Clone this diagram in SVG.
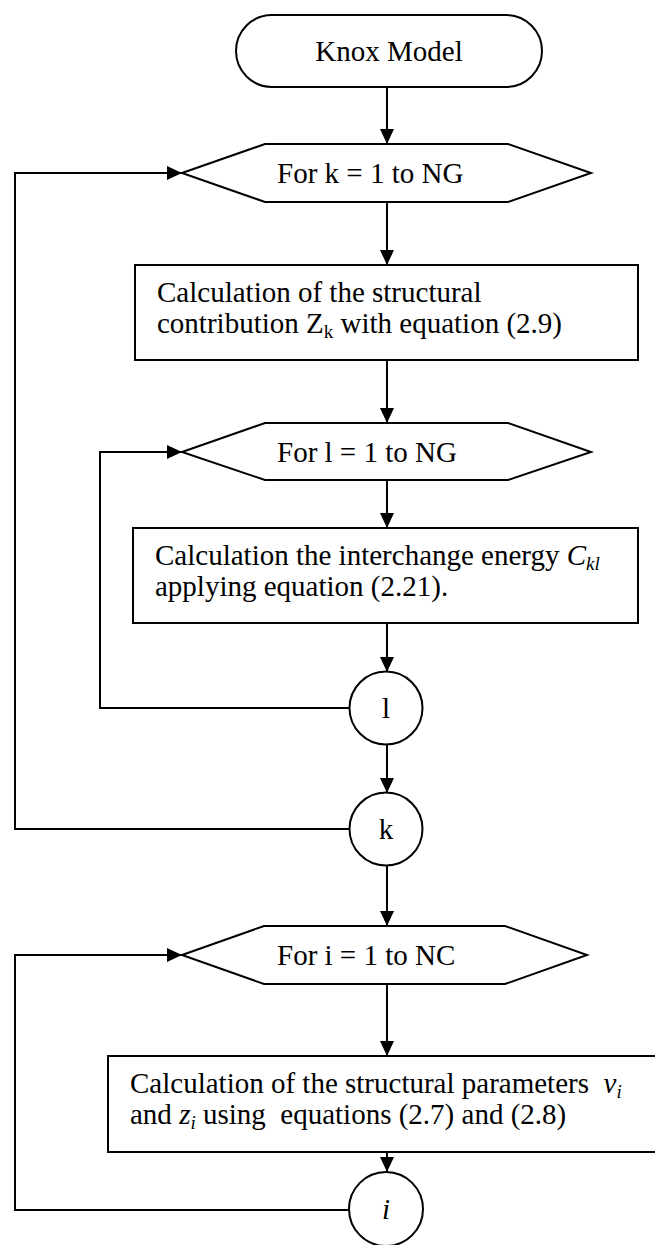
<svg xmlns="http://www.w3.org/2000/svg" width="655" height="1245" viewBox="0 0 655 1245">
<defs>
<marker id="arr" markerUnits="userSpaceOnUse" markerWidth="15" markerHeight="14" refX="15" refY="7" orient="auto">
<path d="M0,0 L15,7 L0,14 z" fill="#000"/>
</marker>
<style>
.s{fill:#fff;stroke:#000;stroke-width:2}
.c{fill:none;stroke:#000;stroke-width:2}
.t{font-family:"Liberation Serif","Times New Roman",serif;font-size:29px;fill:#000}
.m{text-anchor:middle}
.sub{font-size:19px}
.i{font-style:italic}
</style>
</defs>
<rect width="655" height="1245" fill="#fff"/>
<g id="connectors">
<line class="c" x1="387" y1="87" x2="387" y2="144" marker-end="url(#arr)"/>
<line class="c" x1="387" y1="202" x2="387" y2="265" marker-end="url(#arr)"/>
<line class="c" x1="387" y1="360" x2="387" y2="423" marker-end="url(#arr)"/>
<line class="c" x1="387" y1="480" x2="387" y2="528" marker-end="url(#arr)"/>
<line class="c" x1="387" y1="623" x2="387" y2="672" marker-end="url(#arr)"/>
<line class="c" x1="387" y1="745" x2="387" y2="793" marker-end="url(#arr)"/>
<line class="c" x1="387" y1="866" x2="387" y2="926" marker-end="url(#arr)"/>
<line class="c" x1="387" y1="984" x2="387" y2="1056" marker-end="url(#arr)"/>
<line class="c" x1="387" y1="1152" x2="387" y2="1172" marker-end="url(#arr)"/>
<polyline class="c" points="350,708 100,708 100,452 182,452" marker-end="url(#arr)"/>
<polyline class="c" points="350,829 15,829 15,173 182,173" marker-end="url(#arr)"/>
<polyline class="c" points="350,1210 15,1210 15,955 182,955" marker-end="url(#arr)"/>
</g>
<g id="start">
<rect class="s" x="236" y="15" width="306" height="72" rx="36" ry="36"/>
<text class="t m" x="389" y="61">Knox Model</text>
</g>
<g id="loop-k">
<polygon class="s" points="182,173 265,144 508,144 591,173 508,202 265,202"/>
<text class="t" x="277" y="183">For k = 1 to NG</text>
</g>
<g id="box-zk">
<rect class="s" x="135" y="265" width="503" height="95"/>
<text class="t" x="157" y="302">Calculation of the structural</text>
<text class="t" x="157" y="333">contribution Z<tspan class="sub" dy="5">k</tspan><tspan dy="-5"> with equation (2.9)</tspan></text>
</g>
<g id="loop-l">
<polygon class="s" points="182,452 265,423 508,423 591,452 508,480 265,480"/>
<text class="t" x="277" y="462">For l = 1 to NG</text>
</g>
<g id="box-ckl">
<rect class="s" x="133" y="528" width="505" height="95"/>
<text class="t" x="155" y="565">Calculation the interchange energy <tspan class="i">C</tspan><tspan class="sub i" dy="5">kl</tspan></text>
<text class="t" x="155" y="596">applying equation (2.21).</text>
</g>
<g id="end-l">
<circle class="s" cx="386" cy="708" r="36.5"/>
<text class="t m" x="386" y="718">l</text>
</g>
<g id="end-k">
<circle class="s" cx="386" cy="829" r="36.5"/>
<text class="t m" x="386" y="839">k</text>
</g>
<g id="loop-i">
<polygon class="s" points="182,955 264,926 505,926 587,955 505,984 264,984"/>
<text class="t" x="277" y="965">For i = 1 to NC</text>
</g>
<g id="box-vz">
<rect class="s" x="108" y="1056" width="556" height="96"/>
<text class="t" x="130" y="1093" xml:space="preserve">Calculation of the structural parameters  <tspan class="i">v</tspan><tspan class="sub i" dy="5">i</tspan></text>
<text class="t" x="130" y="1124" xml:space="preserve">and <tspan class="i">z</tspan><tspan class="sub i" dy="5">i</tspan><tspan dy="-5"> using  equations (2.7) and (2.8)</tspan></text>
</g>
<g id="end-i">
<circle class="s" cx="386" cy="1209" r="37"/>
<text class="t m i" x="386" y="1219">i</text>
</g>
</svg>
